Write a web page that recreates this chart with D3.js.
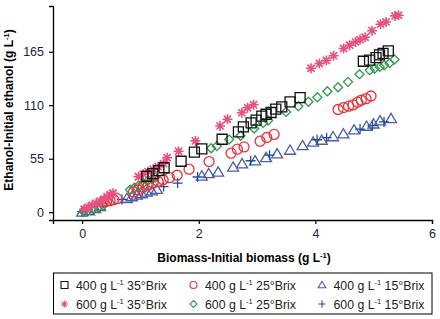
<!DOCTYPE html>
<html>
<head>
<meta charset="utf-8">
<script src="https://cdn.jsdelivr.net/npm/d3@7"></script>
<style>
  body { margin: 0; background: #fff; }
  svg text { font-family: "Liberation Sans Narrow", "Arial Narrow", "Liberation Sans", Arial, sans-serif; }
</style>
</head>
<body>
<div class="chart"></div>
<script>
// data: [biomass, ethanol]
var sq400_35 = [[1.109,37.0],[1.212,39.6],[1.315,42.7],[1.406,45.7],[1.697,52.4],[1.925,61.7],[2.052,65.1],[2.400,75.0],
  [2.680,82.6],[2.765,87.7],[2.897,91.8],[2.983,94.6],[3.081,98.7],[3.154,100.7],[3.240,102.5],[3.321,105.9],[3.424,108.3],
  [3.566,113.4],[3.738,117.9],[4.823,155.2],[4.929,156.3],[5.040,159.0],[5.100,161.7],[5.160,163.2],[5.251,165.8]];
var ci400_25 = [[0.360,10.6],[0.420,11.3],[0.480,12.0],[0.540,12.9],[0.600,13.9],[0.880,20.9],[0.960,22.9],[1.046,25.7],
  [1.131,27.8],[1.217,29.8],[1.303,31.6],[1.389,33.4],[1.497,35.5],[1.629,38.0],[1.834,44.2],[2.177,52.1],[2.554,60.7],
  [2.662,64.8],[2.777,67.1],[3.052,73.0],[3.166,76.8],[3.292,80.0],[4.389,105.6],[4.483,107.6],[4.569,109.0],[4.646,110.3],
  [4.723,113.1],[4.788,115.1],[4.869,116.7],[4.954,119.5]];
var tr400_15 = [[0.0,0.0],[0.120,1.5],[0.223,3.6],[0.309,5.7],[0.766,14.1],[0.852,15.9],[0.938,17.5],[1.023,19.0],[1.109,20.6],
  [1.195,21.9],[1.281,23.4],[2.052,37.2],[2.169,39.6],[2.332,41.3],[2.589,46.3],[2.743,49.7],[2.966,52.7],[3.154,56.2],
  [3.343,60.0],[3.566,63.7],[3.780,68.4],[3.960,72.0],[4.109,74.0],[4.303,77.6],[4.480,80.5],[4.663,84.6],[4.877,88.4],
  [4.997,90.7],[5.109,93.9],[5.297,96.3]];
var as600_35 = [[0.034,3.1],[0.103,5.1],[0.171,7.2],[0.240,9.3],[0.309,11.3],[0.377,13.4],[0.429,15.9],[0.480,18.0],[0.531,19.5],
  [0.965,36.5],[1.046,39.1],[1.131,41.6],[1.217,44.2],[1.303,46.8],[1.394,49.9],[1.457,56.0],[1.654,62.7],[1.942,73.3],
  [2.366,88.7],[2.491,95.6],[2.738,102.3],[2.837,107.4],[2.940,110.5],[3.926,148.0],[4.068,152.9],[4.188,156.0],[4.312,160.9],
  [4.483,168.3],[4.589,171.7],[4.689,175.1],[4.766,177.5],[4.852,179.9],[4.972,186.6],[5.117,193.3],[5.212,195.6],
  [5.366,201.8],[5.426,202.5]];
var di600_25 = [[0.026,0.5],[0.103,1.7],[0.189,3.3],[0.274,4.8],[0.360,6.7],[0.823,23.1],[0.897,25.2],[0.969,27.4],[1.042,29.5],
  [1.119,31.9],[1.192,33.9],[1.251,35.7],[2.212,65.8],[2.309,67.9],[2.520,74.7],[2.717,78.6],[2.949,86.0],[3.103,91.8],
  [3.189,94.3],[3.497,103.1],[3.708,109.0],[3.880,113.6],[4.034,118.2],[4.205,124.4],[4.389,128.5],[4.560,134.0],
  [4.757,141.9],[4.932,146.0],[5.018,147.7],[5.104,149.4],[5.181,151.1],[5.272,153.2],[5.357,157.0]];
var pl600_15 = [[0.0,0.5],[0.681,13.1],[1.397,26.4],[1.637,30.0],[1.980,36.2],[2.889,52.9],[3.214,58.6],[4.029,74.5],
  [4.192,76.6],[4.766,85.5],[4.980,89.1],[5.177,92.8]];

var xTicks = [0, 2, 4, 6];
var yTicks = [0, 55, 110, 165];
var seriesNames = ["400 g L-1 35°Brix", "400 g L-1 25°Brix", "400 g L-1 15°Brix",
                   "600 g L-1 35°Brix", "600 g L-1 25°Brix", "600 g L-1 15°Brix"];

var W = 440, H = 319;
var mLeft = 53, mRight = 432, mTop = 6, mBottom = 220;

var x = d3.scaleLinear().domain([-0.5, 6]).range([mLeft, mRight]);
var y = d3.scaleLinear().domain([-8, 212]).range([mBottom, mTop]);

var svg = d3.select(".chart").append("svg")
    .attr("width", W).attr("height", H);

// marker shapes, s = half size
function shapePath(kind, s) {
  var p = d3.path();
  if (kind == "square") {
    p.rect(-s, -s, 2 * s, 2 * s);
  } else if (kind == "circle") {
    p.arc(0, 0, s, 0, 2 * Math.PI);
  } else if (kind == "triangle") {
    p.moveTo(0, -s * 1.05); p.lineTo(s * 1.1, s * 0.8); p.lineTo(-s * 1.1, s * 0.8); p.closePath();
  } else if (kind == "diamond") {
    p.moveTo(0, -s); p.lineTo(s, 0); p.lineTo(0, s); p.lineTo(-s, 0); p.closePath();
  } else if (kind == "plus") {
    p.moveTo(-s, 0); p.lineTo(s, 0); p.moveTo(0, -s); p.lineTo(0, s);
  } else if (kind == "asterisk") {
    var d = s * 0.72;
    p.moveTo(-s, 0); p.lineTo(s, 0); p.moveTo(0, -s); p.lineTo(0, s);
    p.moveTo(-d, -d); p.lineTo(d, d); p.moveTo(-d, d); p.lineTo(d, -d);
  }
  return p.toString();
}

var series = [
  { name: seriesNames[0], data: sq400_35, kind: "square",   color: "#111111", size: 5 },
  { name: seriesNames[1], data: ci400_25, kind: "circle",   color: "#e8323a", size: 5 },
  { name: seriesNames[2], data: tr400_15, kind: "triangle", color: "#4a5ea6", size: 5 },
  { name: seriesNames[3], data: as600_35, kind: "asterisk", color: "#e8507e", size: 5 },
  { name: seriesNames[4], data: di600_25, kind: "diamond",  color: "#2f9a4c", size: 4.5 },
  { name: seriesNames[5], data: pl600_15, kind: "plus",     color: "#1f4c9c", size: 5 }
];

// points
var drawOrder = [2, 5, 4, 1, 3, 0];
drawOrder.forEach(function (i) {
  var s = series[i];
  svg.append("g").selectAll("path")
    .data(s.data)
    .enter().append("path")
    .attr("transform", function (d) { return "translate(" + x(d[0]) + "," + y(d[1]) + ")"; })
    .attr("d", shapePath(s.kind, s.size))
    .attr("fill", "none")
    .attr("stroke", s.color)
    .attr("stroke-width", s.kind == "asterisk" ? 1.6 : 1.3);
});

// axes
var xAxis = svg.append("g")
    .attr("transform", "translate(0," + mBottom + ")")
    .call(d3.axisBottom(x).tickValues(xTicks).tickFormat(d3.format("d"))
      .tickSizeOuter(0).tickSize(4).tickPadding(5));
var yAxis = svg.append("g")
    .attr("transform", "translate(" + mLeft + ",0)")
    .call(d3.axisLeft(y).tickValues(yTicks).tickFormat(d3.format("d"))
      .tickSizeOuter(0).tickSize(4).tickPadding(5));

[xAxis, yAxis].forEach(function (g) {
  g.select(".domain").attr("stroke", "#000").attr("stroke-width", 1.3);
  g.selectAll(".tick line").attr("stroke", "#000").attr("stroke-width", 1.2);
  g.selectAll(".tick text")
    .attr("fill", "#1c2340")
    .style("font-family", "'Liberation Sans', Arial, sans-serif")
    .style("font-size", "12.5px");
});

// axis titles
var xt = svg.append("text")
    .attr("x", 244).attr("y", 262)
    .attr("text-anchor", "middle")
    .style("font-size", "12px").style("font-weight", "bold");
xt.append("tspan").text("Biomass-Initial biomass (g L");
xt.append("tspan").attr("dy", -4).style("font-size", "7.5px").text("-1");
xt.append("tspan").attr("dy", 4).text(")");

var yt = svg.append("text")
    .attr("transform", "translate(13,110) rotate(-90)")
    .attr("text-anchor", "middle")
    .style("font-size", "12px").style("font-weight", "bold");
yt.append("tspan").text("Ethanol-Initial ethanol (g L");
yt.append("tspan").attr("dy", -4).style("font-size", "7.5px").text("-1");
yt.append("tspan").attr("dy", 4).text(")");

// legend
var legend = svg.append("g");
legend.append("rect")
    .attr("x", 53.5).attr("y", 273).attr("width", 378.5).attr("height", 41)
    .attr("fill", "#fff").attr("stroke", "#000").attr("stroke-width", 1);

var colX = [64.5, 193.5, 322];
var rowY = [285, 304];
series.forEach(function (s, i) {
  var cx = colX[i % 3], cy = rowY[Math.floor(i / 3)];
  legend.append("path")
    .attr("transform", "translate(" + cx + "," + cy + ")")
    .attr("d", shapePath(s.kind, 3.5))
    .attr("fill", "none")
    .attr("stroke", s.color)
    .attr("stroke-width", 1.1);
  var parts = s.name.split("L-1");
  var t = legend.append("text")
      .attr("x", cx + 11.5).attr("y", cy + 4.5)
      .attr("fill", "#222")
      .style("font-size", "12.3px");
  t.append("tspan").text(parts[0] + "L");
  t.append("tspan").attr("dy", -5).style("font-size", "7.5px").text("-1");
  t.append("tspan").attr("dy", 5).text(parts[1]);
});
</script>
</body>
</html>
